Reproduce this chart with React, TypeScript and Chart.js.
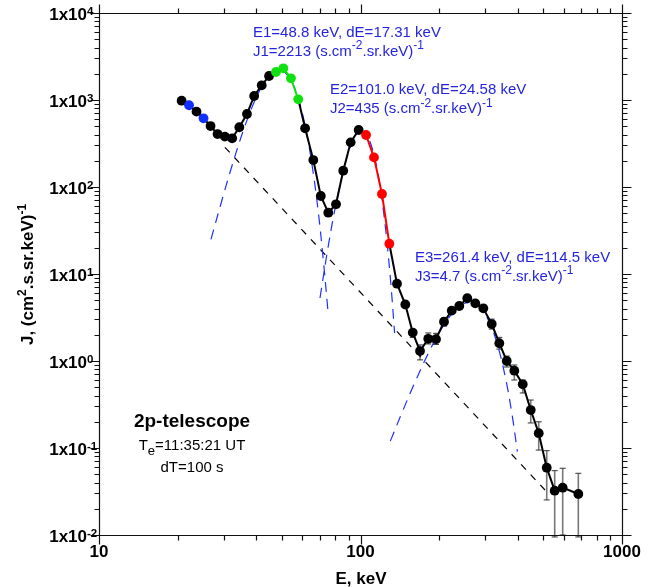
import React, { useEffect, useRef } from 'react';
import { Chart, registerables } from 'chart.js';

Chart.register(...registerables);

// ---- data ----
const energy = [20.7, 22.1, 23.6, 25.1, 26.7, 28.4, 30.3, 32.3, 34.4, 36.8, 39.2, 41.9, 44.7, 47.5, 50.7, 54.2, 57.8, 61.4, 66.0, 70.5, 75.3, 80.6, 85.9, 91.7, 98.4, 105.0, 112.6, 120.8, 128.9, 137.9, 148.4, 158.4, 168.9, 181.6, 194.4, 208.6, 223.3, 238.6, 256.1, 274.8, 294.9, 317.5, 339.5, 362.4, 387.5, 417.3, 447.7, 480.3, 515.4, 552.9, 593.2, 680.7];
const flux = [982, 870, 735, 616, 502, 406, 379, 363, 486, 690, 1112, 1476, 1888, 2099, 2314, 1776, 1019, 473, 204, 78.8, 50.7, 63.3, 154, 326, 452, 396, 219, 83.1, 22.3, 7.74, 4.46, 2.12, 1.30, 1.80, 1.78, 2.83, 3.79, 4.29, 5.26, 4.60, 4.03, 2.66, 1.60, 1.00, 0.774, 0.540, 0.273, 0.148, 0.0594, 0.0323, 0.035, 0.0296];
const errLow: (number | null)[] = [null, null, null, null, null, null, null, null, null, null, null, null, null, null, null, null, null, null, null, null, null, null, null, null, null, null, null, null, null, null, null, 1.87, 1.03, 1.57, 1.55, 2.52, 3.5, 3.96, 4.86, 4.25, 3.72, 2.33, 1.37, 0.853, 0.605, 0.429, 0.194, 0.0947, 0.0253, 0.0095, 0.0100, 0.0095];
const errHigh: (number | null)[] = [null, null, null, null, null, null, null, null, null, null, null, null, null, null, null, null, null, null, null, null, null, null, null, null, null, null, null, null, null, null, null, 2.31, 1.53, 2.10, 2.08, 3.12, 4.1, 4.65, 5.7, 4.98, 4.36, 3.03, 1.87, 1.14, 0.90, 0.605, 0.356, 0.200, 0.0931, 0.0549, 0.0585, 0.0512];
const blueIdx = [1, 3];
const greenIdx = [13, 14, 15, 16];
const redIdx = [25, 26, 27, 28];

const g1E = [26.8, 29.5, 32, 35, 38, 41, 44, 47, 48.8, 51, 54, 57, 60, 63, 66, 69, 72, 75];
const g1J = [25, 70, 162, 380, 752, 1261, 1788, 2147, 2213, 2116, 1724, 1188, 693, 342, 143, 51, 15, 3.9];
const g2E = [70, 75, 80, 85, 90, 95, 101, 106, 111, 116, 121, 126, 131, 135];
const g2J = [5.3, 19.6, 57.5, 134, 250, 369, 435, 388, 275, 155, 69.4, 24.7, 7.0, 2.1];
const g3E = [130, 145, 160, 180, 200, 220, 240, 261.4, 285, 310, 335, 360, 380, 398];
const g3J = [0.12, 0.267, 0.534, 1.158, 2.118, 3.27, 4.27, 4.7, 4.18, 2.85, 1.495, 0.601, 0.240, 0.0908];
const bgE = [30.3, 507.6];
const bgJ = [286, 0.0329];

const xMajor = [10, 100, 1000];
const xMajorLabels = ['10', '100', '1000'];
const yMajor = [0.01, 0.1, 1, 10, 100, 1000, 10000];
const yExp = ['-2', '-1', '0', '1', '2', '3', '4'];

const annotations = [
  { line1: 'E1=48.8 keV, dE=17.31 keV', line2: 'J1=2213 (s.cm' },
  { line1: 'E2=101.0 keV, dE=24.58 keV', line2: 'J2=435 (s.cm' },
  { line1: 'E3=261.4 keV, dE=114.5 keV', line2: 'J3=4.7 (s.cm' },
];

const FONT = '"Liberation Sans", Arial, Helvetica, sans-serif';
const BLUE_TXT = '#2424e0';
const BLUE_LINE = '#1f2fff';

type Part = { t: string; s?: 'sup' | 'sub' };

function drawRich(ctx: CanvasRenderingContext2D, parts: Part[], x: number, y: number, size: number, weight: string, align: 'left' | 'center' | 'right', color: string, smallSize?: number) {
  const small = smallSize ?? Math.round(size * 0.72);
  const widths = parts.map((p) => {
    ctx.font = `${weight} ${p.s ? small : size}px ${FONT}`;
    return ctx.measureText(p.t).width;
  });
  const total = widths.reduce((a, b) => a + b, 0);
  let cx = align === 'left' ? x : align === 'center' ? x - total / 2 : x - total;
  ctx.fillStyle = color;
  ctx.textAlign = 'left';
  ctx.textBaseline = 'alphabetic';
  parts.forEach((p, i) => {
    ctx.font = `${weight} ${p.s ? small : size}px ${FONT}`;
    const dy = p.s === 'sup' ? -size * 0.42 : p.s === 'sub' ? size * 0.32 : 0;
    ctx.fillText(p.t, cx, y + dy);
    cx += widths[i];
  });
}

const errorBarPlugin = {
  id: 'errorBars',
  beforeDatasetsDraw(chart: any) {
    const { ctx, scales } = chart;
    const xs = scales.x, ys = scales.y;
    ctx.save();
    for (let i = 0; i < energy.length; i++) {
      const lo = errLow[i], hi = errHigh[i];
      if (lo == null || hi == null) continue;
      const px = xs.getPixelForValue(energy[i]);
      const pLo = ys.getPixelForValue(lo);
      const pHi = ys.getPixelForValue(hi);
      ctx.strokeStyle = '#777';
      ctx.lineWidth = 1.6;
      ctx.beginPath();
      ctx.moveTo(px, pLo);
      ctx.lineTo(px, pHi);
      ctx.stroke();
      ctx.strokeStyle = '#333';
      ctx.lineWidth = 1;
      ctx.beginPath();
      ctx.moveTo(px - 3, pLo);
      ctx.lineTo(px + 3, pLo);
      ctx.moveTo(px - 3, pHi);
      ctx.lineTo(px + 3, pHi);
      ctx.stroke();
    }
    ctx.restore();
  },
};

const framePlugin = {
  id: 'frame',
  afterDraw(chart: any) {
    const { ctx, scales, chartArea } = chart;
    const xs = scales.x, ys = scales.y;
    const L = Math.round(chartArea.left) + 0.5;
    const R = Math.round(chartArea.right) + 0.5;
    const T = Math.round(chartArea.top) + 0.5;
    const B = Math.round(chartArea.bottom) + 0.5;
    ctx.save();
    ctx.strokeStyle = '#111';
    ctx.lineWidth = 1.2;
    ctx.beginPath();
    ctx.rect(L, T, R - L, B - T);
    ctx.stroke();
    const majLen = 9, minLen = 5;
    ctx.beginPath();
    for (let d = 10; d < 1000; d *= 10) {
      for (let m = 1; m <= 10; m++) {
        const v = d * m;
        const px = Math.round(xs.getPixelForValue(v)) + 0.5;
        const len = m === 1 || m === 10 ? majLen : minLen;
        ctx.moveTo(px, B);
        ctx.lineTo(px, B + len);
        ctx.moveTo(px, T);
        ctx.lineTo(px, T - len);
      }
    }
    for (let d = 0.01; d < 10000 * 0.99; d *= 10) {
      for (let m = 1; m <= 10; m++) {
        const v = d * m;
        const py = Math.round(ys.getPixelForValue(v)) + 0.5;
        const len = m === 1 || m === 10 ? majLen : minLen;
        ctx.moveTo(L, py);
        ctx.lineTo(L - len, py);
        ctx.moveTo(R, py);
        ctx.lineTo(R + len, py);
      }
    }
    ctx.stroke();

    xMajor.forEach((v, i) => {
      const px = xs.getPixelForValue(v);
      drawRich(ctx, [{ t: xMajorLabels[i] }], px, 557, 17, 'bold', 'center', '#000');
    });
    yMajor.forEach((v, i) => {
      const py = ys.getPixelForValue(v);
      ctx.font = `bold 17px ${FONT}`;
      ctx.fillStyle = '#000';
      ctx.textAlign = 'right';
      ctx.textBaseline = 'alphabetic';
      ctx.fillText('1x10', 87, py + 7);
      ctx.font = `bold 11.5px ${FONT}`;
      ctx.textAlign = 'left';
      ctx.fillText(yExp[i], 87, py + 1.5);
    });
    drawRich(ctx, [{ t: 'E, keV' }], (L + R) / 2, 584, 17, 'bold', 'center', '#000');
    ctx.save();
    ctx.translate(33, (T + B) / 2);
    ctx.rotate(-Math.PI / 2);
    drawRich(ctx, [{ t: 'J, (cm' }, { t: '2', s: 'sup' }, { t: '.s.sr.keV)' }, { t: '-1', s: 'sup' }], 0, 0, 17, 'bold', 'center', '#000', 12);
    ctx.restore();

    const pos = [
      { x: 253, y1: 36.5, y2: 55.5 },
      { x: 330, y1: 94, y2: 113 },
      { x: 415, y1: 261.5, y2: 280.5 },
    ];
    annotations.forEach((a, i) => {
      drawRich(ctx, [{ t: a.line1 }], pos[i].x, pos[i].y1, 15, 'normal', 'left', BLUE_TXT);
      drawRich(ctx, [{ t: a.line2 }, { t: '-2', s: 'sup' }, { t: '.sr.keV)' }, { t: '-1', s: 'sup' }], pos[i].x, pos[i].y2, 15, 'normal', 'left', BLUE_TXT, 12);
    });

    drawRich(ctx, [{ t: '2p-telescope' }], 192, 427, 19, 'bold', 'center', '#000');
    drawRich(ctx, [{ t: 'T' }, { t: 'e', s: 'sub' }, { t: '=11:35:21 UT' }], 192, 450, 15, 'normal', 'center', '#000', 13);
    drawRich(ctx, [{ t: 'dT=100 s' }], 192, 471.5, 15, 'normal', 'center', '#000');
    ctx.restore();
  },
};

function pts(xa: number[], ya: number[]) {
  return xa.map((x, i) => ({ x, y: ya[i] }));
}

export default function App() {
  const ref = useRef<HTMLCanvasElement | null>(null);
  useEffect(() => {
    document.body.style.margin = '0';
    const canvas = ref.current!;
    const pointColors = energy.map((_, i) =>
      blueIdx.includes(i) ? '#1030ff' : greenIdx.includes(i) ? '#10e010' : redIdx.includes(i) ? '#ff0000' : '#000'
    );
    const chart = new Chart(canvas, {
      type: 'line',
      data: {
        datasets: [
          {
            label: 'data',
            data: pts(energy, flux),
            borderColor: '#000',
            borderWidth: 2,
            pointRadius: 4.9,
            pointBackgroundColor: pointColors,
            pointBorderColor: pointColors,
            pointBorderWidth: 0,
            tension: 0,
            segment: {
              borderColor: (c: any) => {
                const i = c.p0DataIndex;
                if (i >= 13 && i <= 15) return '#10e010';
                if (i >= 25 && i <= 27) return '#ff0000';
                return '#000';
              },
            },
          } as any,
          {
            label: 'g1',
            data: pts(g1E, g1J),
            borderColor: BLUE_LINE,
            borderWidth: 1.2,
            borderDash: [10, 7],
            pointRadius: 0,
            tension: 0.35,
          },
          {
            label: 'g2',
            data: pts(g2E, g2J),
            borderColor: BLUE_LINE,
            borderWidth: 1.2,
            borderDash: [10, 7],
            pointRadius: 0,
            tension: 0.35,
          },
          {
            label: 'g3',
            data: pts(g3E, g3J),
            borderColor: BLUE_LINE,
            borderWidth: 1.2,
            borderDash: [10, 7],
            pointRadius: 0,
            tension: 0.35,
          },
          {
            label: 'bg',
            data: pts(bgE, bgJ),
            borderColor: '#000',
            borderWidth: 1.2,
            borderDash: [7, 7],
            pointRadius: 0,
            tension: 0,
          },
        ],
      },
      options: {
        responsive: false,
        animation: false,
        devicePixelRatio: 1,
        layout: { padding: { left: 99, right: 45, top: 13, bottom: 52 } },
        plugins: { legend: { display: false }, tooltip: { enabled: false } },
        scales: {
          x: { type: 'logarithmic', min: 10, max: 1000, display: false },
          y: { type: 'logarithmic', min: 0.01, max: 10000, display: false },
        },
      },
      plugins: [errorBarPlugin, framePlugin],
    });
    return () => chart.destroy();
  }, []);
  return <canvas ref={ref} width={667} height={587} style={{ display: 'block', width: 667, height: 587 }} />;
}
